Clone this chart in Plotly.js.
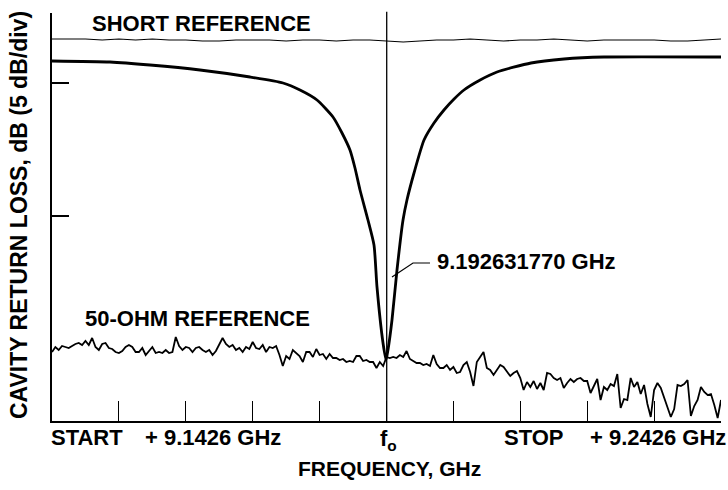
<!DOCTYPE html>
<html>
<head>
<meta charset="utf-8">
<script src="https://cdn.plot.ly/plotly-3.0.1.min.js"></script>
<style>
  html, body { margin: 0; padding: 0; background: #fff; }
  #chart { width: 728px; height: 490px; }
</style>
</head>
<body>
<div id="chart"></div>
<script>
// ---- data ----
const START_GHZ = 9.1426;
const STOP_GHZ = 9.2426;
const F0_GHZ = 9.192631770;

// Short reference trace: offset from start (MHz) every 2.5 MHz, return loss (dB)
const shortRefStepMHz = 2.5;
const shortRefLoss = [2.6, 2.6, 2.6, 2.7, 2.6, 2.7, 2.6, 2.7, 2.7, 2.8, 2.8, 2.7, 2.7, 2.7, 2.8, 2.7, 2.7, 2.8, 2.7, 2.7,
  2.8, 2.9, 2.8, 2.7, 2.7, 2.6, 2.7, 2.8, 2.7, 2.7, 2.6, 2.7, 2.8, 2.7, 2.7, 2.7, 2.7, 2.8, 2.8, 2.7, 2.6];

// Cavity response: offset from start (MHz) and return loss (dB)
const cavityOffsetMHz = [0, 8.67, 14.65, 22.12, 29.6, 34.53, 37.07, 39.61, 42.0, 43.35, 44.54, 45.29, 46.04, 47.23, 48.13, 48.58,
  49.48, 49.93, 50.22, 50.82, 51.57, 52.47, 53.06, 54.11, 55.61, 57.1, 58.59, 60.1, 61.58, 64.0, 66.52, 71.6, 76.53, 82.51, 100];
const cavityLoss = [4.8, 4.9, 5.2, 5.7, 6.4, 7.0, 7.7, 8.7, 10.4, 12.0, 13.7, 15.5, 17.7, 20.7, 23.2, 27.4,
  33.0, 34.7, 33.7, 30.7, 25.7, 20.7, 18.7, 16.0, 12.7, 11.0, 9.7, 8.6, 7.7, 6.7, 5.9, 5.0, 4.6, 4.4, 4.4];

// 50-ohm reference trace: 201 sweep points, 0.5 MHz apart, return loss (dB)
const ohm50StepMHz = 0.5;
const ohm50Loss = [
  33.9, 33.4, 33.7, 33.3, 33.4, 33.5, 33.3, 33.1, 33.0, 33.2,
  32.8, 33.2, 32.5, 33.4, 33.7, 33.1, 33.0, 33.5, 33.6, 33.9,
  34.0, 33.8, 33.4, 33.2, 33.4, 33.9, 33.9, 33.5, 34.2, 33.8,
  33.4, 34.0, 33.9, 34.0, 33.7, 34.0, 33.9, 32.4, 33.3, 33.7,
  33.4, 33.5, 33.9, 33.5, 33.4, 33.7, 33.9, 33.7, 34.2, 33.8,
  33.2, 32.5, 33.1, 33.4, 33.2, 33.7, 33.5, 33.9, 33.4, 33.6,
  32.9, 33.5, 33.6, 33.2, 33.9, 33.4, 33.5, 33.3, 34.2, 35.3,
  34.3, 34.6, 33.7, 34.0, 34.3, 34.9, 33.9, 33.9, 34.4, 33.6,
  34.2, 34.1, 34.6, 34.1, 34.5, 34.5, 34.7, 34.6, 34.9, 34.8,
  34.9, 34.3, 34.3, 34.8, 34.7, 34.9, 34.9, 35.5, 34.9, 35.3,
  34.4, 34.5, 34.4, 34.5, 34.2, 34.4, 33.8, 34.6, 34.8, 35.0,
  35.0, 35.2, 35.1, 35.3, 34.2, 35.1, 35.5, 35.5, 35.2, 35.7,
  35.4, 36.0, 35.9, 35.2, 34.9, 35.9, 37.3, 34.9, 34.4, 33.9,
  35.5, 35.7, 36.2, 35.7, 35.2, 35.4, 35.9, 36.3, 36.0, 35.8,
  36.5, 37.7, 36.9, 37.4, 36.8, 37.6, 37.0, 37.7, 36.0, 36.1,
  36.5, 36.7, 36.5, 37.5, 37.0, 36.6, 36.9, 36.6, 36.5, 36.8,
  36.8, 38.0, 37.3, 36.6, 38.7, 37.4, 37.7, 37.1, 37.3, 36.1,
  39.5, 38.6, 38.7, 36.5, 37.4, 36.9, 38.1, 37.2, 39.1, 40.4,
  37.7, 37.0, 37.5, 38.5, 39.3, 40.4, 39.6, 37.2, 37.3, 37.1,
  36.7, 40.3, 39.3, 38.7, 37.4, 37.9, 38.2, 38.1, 39.2, 40.5,
  38.7];

// Labels
const labelShort = 'SHORT REFERENCE';
const label50 = '50-OHM REFERENCE';
const labelF0 = '9.192631770 GHz';
const labelStart = 'START';
const labelStartF = '+ 9.1426 GHz';
const labelStop = 'STOP';
const labelStopF = '+ 9.2426 GHz';
const labelCenter = 'f<sub>o</sub>';
const xTitle = 'FREQUENCY, GHz';
const yTitle = 'CAVITY RETURN LOSS, dB (5 dB/div)';

// ---- build ----
const toGHz = off => START_GHZ + off / 1000;
const shortX = shortRefLoss.map((_, i) => toGHz(i * shortRefStepMHz));
const ohmX = ohm50Loss.map((_, i) => toGHz(i * ohm50StepMHz));
const cavX = cavityOffsetMHz.map(toGHz);

const FONT = 'Liberation Sans, Arial, Helvetica, sans-serif';
const tf = (s) => ({family: FONT, size: s, color: '#000', weight: 'bold'});

const traces = [
  {x: shortX, y: shortRefLoss, mode: 'lines', line: {color: '#000', width: 1.2}, hoverinfo: 'skip'},
  {x: ohmX, y: ohm50Loss, mode: 'lines', line: {color: '#000', width: 1.8}, hoverinfo: 'skip'},
  {x: cavX, y: cavityLoss, mode: 'lines', line: {color: '#000', width: 2.8, shape: 'spline', smoothing: 0.6}, hoverinfo: 'skip'}
];

const xTicks = [];
for (let k = 1; k <= 9; k++) xTicks.push(toGHz(k * 10));

const layout = {
  width: 728, height: 490,
  margin: {l: 52, r: 7, t: 13, b: 69},
  paper_bgcolor: '#fff', plot_bgcolor: '#fff',
  showlegend: false,
  xaxis: {
    range: [START_GHZ, STOP_GHZ], showgrid: false, zeroline: false,
    showline: true, linecolor: '#000', linewidth: 2,
    ticks: 'inside', ticklen: 20, tickwidth: 1, tickcolor: '#000',
    tickvals: xTicks, showticklabels: false
  },
  yaxis: {
    range: [40.8, 0], showgrid: false, zeroline: false,
    showline: true, linecolor: '#000', linewidth: 2,
    ticks: 'inside', ticklen: 17, tickwidth: 1.2, tickcolor: '#000',
    tickvals: [7.0, 20.3], showticklabels: false
  },
  shapes: [
    {type: 'line', xref: 'x', yref: 'paper', x0: F0_GHZ, x1: F0_GHZ, y0: 0, y1: 1.003, line: {color: '#000', width: 1.3}},
    {type: 'path', xref: 'x', yref: 'y',
     path: 'M ' + toGHz(56.5) + ' 25.0 L ' + toGHz(53.96) + ' 25.0 L ' + toGHz(50.82) + ' 26.4',
     line: {color: '#000', width: 1.2}}
  ],
  annotations: [
    {text: labelShort, xref: 'x', yref: 'y', x: toGHz(5.7), y: 1.05, xanchor: 'left', yanchor: 'middle', showarrow: false, font: tf(22)},
    {text: label50, xref: 'x', yref: 'y', x: toGHz(4.7), y: 30.55, xanchor: 'left', yanchor: 'middle', showarrow: false, font: tf(22)},
    {text: labelF0, xref: 'x', yref: 'y', x: toGHz(57.3), y: 24.8, xanchor: 'left', yanchor: 'middle', showarrow: false, font: tf(22)},
    {text: labelStart, xref: 'paper', yref: 'paper', x: 0, xshift: -3, y: 0, yshift: -16, xanchor: 'left', yanchor: 'middle', showarrow: false, font: tf(22)},
    {text: labelStartF, xref: 'x', yref: 'paper', x: toGHz(13.6), y: 0, yshift: -16, xanchor: 'left', yanchor: 'middle', showarrow: false, font: tf(22)},
    {text: labelCenter, xref: 'x', yref: 'paper', x: F0_GHZ, xshift: 2, y: 0, yshift: -19, xanchor: 'center', yanchor: 'middle', showarrow: false, font: tf(22)},
    {text: labelStop, xref: 'x', yref: 'paper', x: toGHz(67.3), y: 0, yshift: -16, xanchor: 'left', yanchor: 'middle', showarrow: false, font: tf(22)},
    {text: labelStopF, xref: 'paper', yref: 'paper', x: 1, xshift: 7, y: 0, yshift: -16, xanchor: 'right', yanchor: 'middle', showarrow: false, font: tf(22)},
    {text: xTitle, xref: 'paper', yref: 'paper', x: 0.5, xshift: 3, y: 0, yshift: -47, xanchor: 'center', yanchor: 'middle', showarrow: false, font: tf(21)},
    {text: yTitle, xref: 'paper', yref: 'paper', x: 0, xshift: -33, y: 0.5, yshift: 2, xanchor: 'center', yanchor: 'middle', textangle: -90, showarrow: false, font: tf(23)}
  ]
};

Plotly.newPlot('chart', traces, layout, {staticPlot: true, displayModeBar: false});
</script>
</body>
</html>
